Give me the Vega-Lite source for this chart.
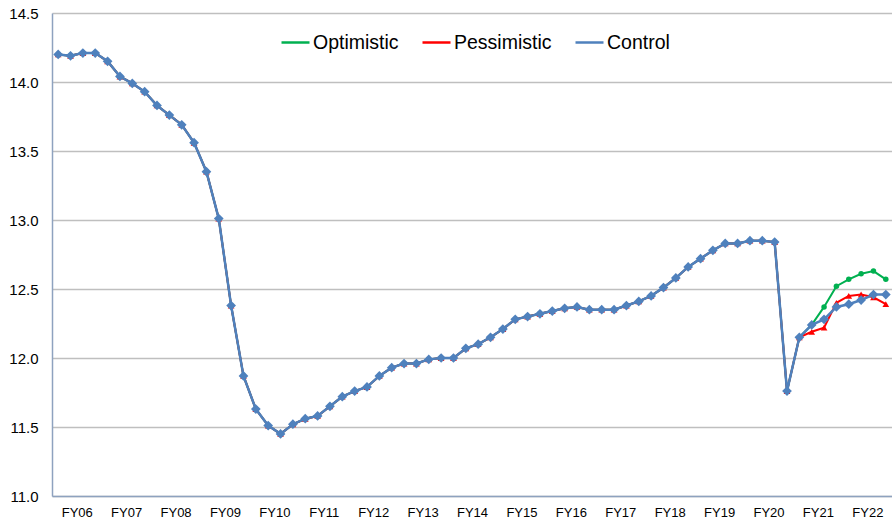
{
  "$schema": "https://vega.github.io/schema/vega-lite/v6.json",
  "width": 840,
  "height": 483,
  "autosize": {"type": "none"},
  "padding": {"left": 52, "top": 13, "right": 0, "bottom": 26},
  "background": "white",
  "config": {"view": {"stroke": null}, "font": "Liberation Sans"},
  "data": {"values": [
    {"period": "FY06Q1", "Optimistic": 14.20, "Pessimistic": 14.20, "Control": 14.20},
    {"period": "FY06Q2", "Optimistic": 14.19, "Pessimistic": 14.19, "Control": 14.19},
    {"period": "FY06Q3", "Optimistic": 14.21, "Pessimistic": 14.21, "Control": 14.21},
    {"period": "FY06Q4", "Optimistic": 14.21, "Pessimistic": 14.21, "Control": 14.21},
    {"period": "FY07Q1", "Optimistic": 14.15, "Pessimistic": 14.15, "Control": 14.15},
    {"period": "FY07Q2", "Optimistic": 14.04, "Pessimistic": 14.04, "Control": 14.04},
    {"period": "FY07Q3", "Optimistic": 13.99, "Pessimistic": 13.99, "Control": 13.99},
    {"period": "FY07Q4", "Optimistic": 13.93, "Pessimistic": 13.93, "Control": 13.93},
    {"period": "FY08Q1", "Optimistic": 13.83, "Pessimistic": 13.83, "Control": 13.83},
    {"period": "FY08Q2", "Optimistic": 13.76, "Pessimistic": 13.76, "Control": 13.76},
    {"period": "FY08Q3", "Optimistic": 13.69, "Pessimistic": 13.69, "Control": 13.69},
    {"period": "FY08Q4", "Optimistic": 13.56, "Pessimistic": 13.56, "Control": 13.56},
    {"period": "FY09Q1", "Optimistic": 13.35, "Pessimistic": 13.35, "Control": 13.35},
    {"period": "FY09Q2", "Optimistic": 13.01, "Pessimistic": 13.01, "Control": 13.01},
    {"period": "FY09Q3", "Optimistic": 12.38, "Pessimistic": 12.38, "Control": 12.38},
    {"period": "FY09Q4", "Optimistic": 11.87, "Pessimistic": 11.87, "Control": 11.87},
    {"period": "FY10Q1", "Optimistic": 11.63, "Pessimistic": 11.63, "Control": 11.63},
    {"period": "FY10Q2", "Optimistic": 11.51, "Pessimistic": 11.51, "Control": 11.51},
    {"period": "FY10Q3", "Optimistic": 11.45, "Pessimistic": 11.45, "Control": 11.45},
    {"period": "FY10Q4", "Optimistic": 11.52, "Pessimistic": 11.52, "Control": 11.52},
    {"period": "FY11Q1", "Optimistic": 11.56, "Pessimistic": 11.56, "Control": 11.56},
    {"period": "FY11Q2", "Optimistic": 11.58, "Pessimistic": 11.58, "Control": 11.58},
    {"period": "FY11Q3", "Optimistic": 11.65, "Pessimistic": 11.65, "Control": 11.65},
    {"period": "FY11Q4", "Optimistic": 11.72, "Pessimistic": 11.72, "Control": 11.72},
    {"period": "FY12Q1", "Optimistic": 11.76, "Pessimistic": 11.76, "Control": 11.76},
    {"period": "FY12Q2", "Optimistic": 11.79, "Pessimistic": 11.79, "Control": 11.79},
    {"period": "FY12Q3", "Optimistic": 11.87, "Pessimistic": 11.87, "Control": 11.87},
    {"period": "FY12Q4", "Optimistic": 11.93, "Pessimistic": 11.93, "Control": 11.93},
    {"period": "FY13Q1", "Optimistic": 11.96, "Pessimistic": 11.96, "Control": 11.96},
    {"period": "FY13Q2", "Optimistic": 11.96, "Pessimistic": 11.96, "Control": 11.96},
    {"period": "FY13Q3", "Optimistic": 11.99, "Pessimistic": 11.99, "Control": 11.99},
    {"period": "FY13Q4", "Optimistic": 12.00, "Pessimistic": 12.00, "Control": 12.00},
    {"period": "FY14Q1", "Optimistic": 12.00, "Pessimistic": 12.00, "Control": 12.00},
    {"period": "FY14Q2", "Optimistic": 12.07, "Pessimistic": 12.07, "Control": 12.07},
    {"period": "FY14Q3", "Optimistic": 12.10, "Pessimistic": 12.10, "Control": 12.10},
    {"period": "FY14Q4", "Optimistic": 12.15, "Pessimistic": 12.15, "Control": 12.15},
    {"period": "FY15Q1", "Optimistic": 12.21, "Pessimistic": 12.21, "Control": 12.21},
    {"period": "FY15Q2", "Optimistic": 12.28, "Pessimistic": 12.28, "Control": 12.28},
    {"period": "FY15Q3", "Optimistic": 12.30, "Pessimistic": 12.30, "Control": 12.30},
    {"period": "FY15Q4", "Optimistic": 12.32, "Pessimistic": 12.32, "Control": 12.32},
    {"period": "FY16Q1", "Optimistic": 12.34, "Pessimistic": 12.34, "Control": 12.34},
    {"period": "FY16Q2", "Optimistic": 12.36, "Pessimistic": 12.36, "Control": 12.36},
    {"period": "FY16Q3", "Optimistic": 12.37, "Pessimistic": 12.37, "Control": 12.37},
    {"period": "FY16Q4", "Optimistic": 12.35, "Pessimistic": 12.35, "Control": 12.35},
    {"period": "FY17Q1", "Optimistic": 12.35, "Pessimistic": 12.35, "Control": 12.35},
    {"period": "FY17Q2", "Optimistic": 12.35, "Pessimistic": 12.35, "Control": 12.35},
    {"period": "FY17Q3", "Optimistic": 12.38, "Pessimistic": 12.38, "Control": 12.38},
    {"period": "FY17Q4", "Optimistic": 12.41, "Pessimistic": 12.41, "Control": 12.41},
    {"period": "FY18Q1", "Optimistic": 12.45, "Pessimistic": 12.45, "Control": 12.45},
    {"period": "FY18Q2", "Optimistic": 12.51, "Pessimistic": 12.51, "Control": 12.51},
    {"period": "FY18Q3", "Optimistic": 12.58, "Pessimistic": 12.58, "Control": 12.58},
    {"period": "FY18Q4", "Optimistic": 12.66, "Pessimistic": 12.66, "Control": 12.66},
    {"period": "FY19Q1", "Optimistic": 12.72, "Pessimistic": 12.72, "Control": 12.72},
    {"period": "FY19Q2", "Optimistic": 12.78, "Pessimistic": 12.78, "Control": 12.78},
    {"period": "FY19Q3", "Optimistic": 12.83, "Pessimistic": 12.83, "Control": 12.83},
    {"period": "FY19Q4", "Optimistic": 12.83, "Pessimistic": 12.83, "Control": 12.83},
    {"period": "FY20Q1", "Optimistic": 12.85, "Pessimistic": 12.85, "Control": 12.85},
    {"period": "FY20Q2", "Optimistic": 12.85, "Pessimistic": 12.85, "Control": 12.85},
    {"period": "FY20Q3", "Optimistic": 12.84, "Pessimistic": 12.84, "Control": 12.84},
    {"period": "FY20Q4", "Optimistic": 11.76, "Pessimistic": 11.76, "Control": 11.76},
    {"period": "FY21Q1", "Optimistic": 12.15, "Pessimistic": 12.15, "Control": 12.15},
    {"period": "FY21Q2", "Optimistic": 12.24, "Pessimistic": 12.19, "Control": 12.24},
    {"period": "FY21Q3", "Optimistic": 12.37, "Pessimistic": 12.22, "Control": 12.28},
    {"period": "FY21Q4", "Optimistic": 12.52, "Pessimistic": 12.40, "Control": 12.37},
    {"period": "FY22Q1", "Optimistic": 12.57, "Pessimistic": 12.45, "Control": 12.39},
    {"period": "FY22Q2", "Optimistic": 12.61, "Pessimistic": 12.46, "Control": 12.42},
    {"period": "FY22Q3", "Optimistic": 12.63, "Pessimistic": 12.44, "Control": 12.46},
    {"period": "FY22Q4", "Optimistic": 12.57, "Pessimistic": 12.39, "Control": 12.46}
  ]},
  "transform": [{"fold": ["Optimistic", "Pessimistic", "Control"], "as": ["series", "value"]}],
  "encoding": {
    "x": {
      "field": "period", "type": "ordinal",
      "scale": {"type": "point", "padding": 0.5},
      "axis": {
        "title": null,
        "values": ["FY06Q2","FY07Q2","FY08Q2","FY09Q2","FY10Q2","FY11Q2","FY12Q2","FY13Q2","FY14Q2","FY15Q2","FY16Q2","FY17Q2","FY18Q2","FY19Q2","FY20Q2","FY21Q2","FY22Q2"],
        "labelExpr": "substring(datum.label, 0, 4)",
        "labelOffset": 6.2,
        "labelAngle": 0,
        "labelFontSize": 13,
        "labelColor": "#000000",
        "labelPadding": 10,
        "ticks": false,
        "grid": false,
        "domainColor": "#8EA2BF",
        "domainWidth": 1.5
      }
    },
    "y": {
      "field": "value", "type": "quantitative",
      "scale": {"domain": [11, 14.5], "zero": false, "nice": false},
      "axis": {
        "title": null,
        "values": [11, 11.5, 12, 12.5, 13, 13.5, 14, 14.5],
        "format": ".1f",
        "labelFontSize": 15,
        "labelColor": "#000000",
        "labelPadding": 14,
        "ticks": false,
        "grid": true,
        "gridColor": "#BFBFBF",
        "gridWidth": 1.5,
        "domainColor": "#8EA2BF",
        "domainWidth": 1.5
      }
    },
    "color": {
      "field": "series", "type": "nominal",
      "scale": {"domain": ["Optimistic", "Pessimistic", "Control"], "range": ["#00B050", "#FF0000", "#4F81BD"]},
      "legend": {
        "orient": "none", "legendX": 228, "legendY": 14, "direction": "horizontal",
        "title": null, "symbolType": "stroke", "symbolSize": 784, "symbolStrokeWidth": 2.5, "symbolOpacity": 1,
        "labelFontSize": 19.5, "labelColor": "#000000", "labelOffset": 2, "columnPadding": 18, "padding": 0
      }
    }
  },
  "layer": [
    {"transform": [{"filter": "datum.series != 'Control'"}], "mark": {"type": "line", "strokeWidth": 2}},
    {"transform": [{"filter": "datum.series == 'Optimistic'"}], "mark": {"type": "point", "shape": "circle", "filled": true, "opacity": 1, "size": 30}},
    {"transform": [{"filter": "datum.series == 'Pessimistic'"}], "mark": {"type": "point", "shape": "triangle-up", "filled": true, "opacity": 1, "size": 45}},
    {"transform": [{"filter": "datum.series == 'Control'"}], "mark": {"type": "line", "strokeWidth": 2.5}},
    {"transform": [{"filter": "datum.series == 'Control'"}], "mark": {"type": "point", "shape": "diamond", "filled": true, "opacity": 1, "size": 95}}
  ]
}
